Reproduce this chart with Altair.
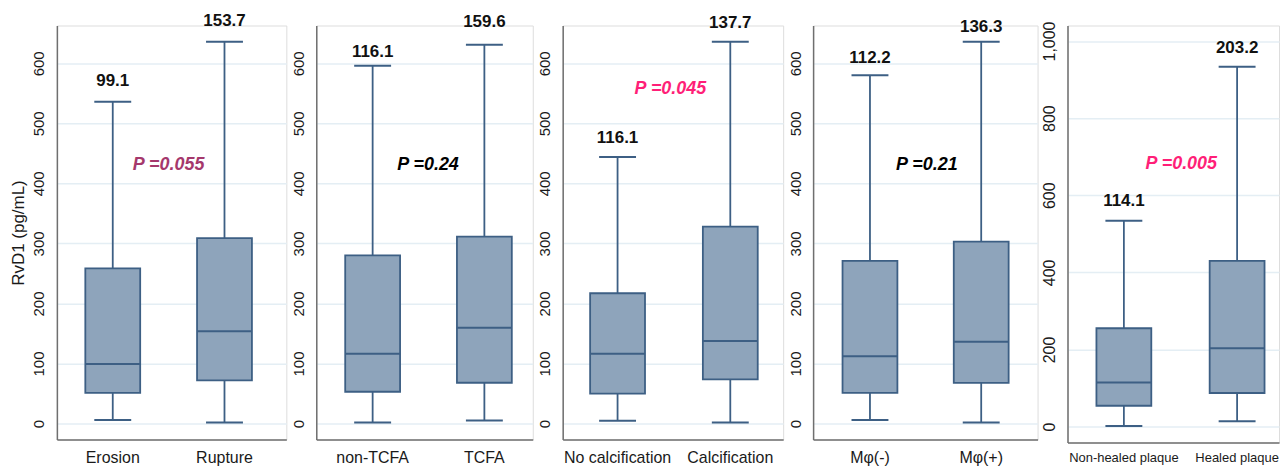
import altair as alt
import pandas as pd

# ---------------- data ----------------
groups = [
    ["Erosion", "Rupture"],
    ["non-TCFA", "TCFA"],
    ["No calcification", "Calcification"],
    ["Mφ(-)", "Mφ(+)"],
    ["Non-healed plaque", "Healed plaque"],
]
lows = [[6, 1.7], [1.6, 5], [4.5, 1.6], [6, 1.6], [1.5, 13.7]]
q1s = [[51, 72], [53, 68], [50, 73.6], [51, 67.6], [54, 87]]
medians = [[99.1, 153.7], [116.1, 159.6], [116.1, 137.7], [112.2, 136.3], [114.1, 203.2]]
q3s = [[258.6, 309], [280, 311.5], [217, 328], [271, 303], [255, 430]]
highs = [[536, 636], [596, 631], [444, 636], [580, 636], [534, 933]]
p_texts = ["P =0.055", "P =0.24", "P =0.045", "P =0.21", "P =0.005"]
p_levels = [431, 430, 558, 430, 680]
y_ticks = [[0, 100, 200, 300, 400, 500, 600]] * 4 + [[0, 200, 400, 600, 800, 1000]]
y_title = "RvD1 (pg/mL)"

# ---------------- styling ----------------
FONT = "Liberation Sans"
BOX_FILL = "#8ea4bb"
BOX_STROKE = "#3d5f84"
GRID = "#e4eef4"
AXIS = "#6f6f6f"
widths = [230, 217, 221, 225, 212]
heights = [415, 415, 415, 415, 418]
domains = [[-26.6, 663]] * 4 + [[-41.4, 1040.3]]
box_centers = [[56, 168], [56.5, 168.5], [55, 168], [57, 168.5], [56.5, 170]]  # px from axis
label_dy = [[-21, -21], [-14, -22.7], [-19, -18.3], [-17.7, -14.3], [-19.7, -19]]
p_x = [112, 112, 108, 114, 114]
p_colors = ["#a5386c", "#000000", "#ff1f78", "#000000", "#ff1f78"]
xlab_size = [16, 16, 16, 16, 13]
xlab_pad = [10, 10, 10, 10, 9]
ylab_size = [15, 15, 15, 15, 16]
PAD_OUTER = 0.1


def band_params(w, c1, c2):
    """paddingInner / align so that two bands are centred at c1, c2 px."""
    s = c2 - c1
    u = w / s
    k1 = c1 / s
    pi = 2 + 2 * PAD_OUTER - u
    a = ((k1 - (u - 1) / 2) / PAD_OUTER + 1) / 2
    return pi, min(max(a, 0.0), 1.0)


def panel(i):
    df = pd.DataFrame({
        "group": groups[i],
        "low": lows[i],
        "q1": q1s[i],
        "med": medians[i],
        "q3": q3s[i],
        "high": highs[i],
        "label": [f"{m:.1f}" for m in medians[i]],
    })
    pi, al = band_params(widths[i], *box_centers[i])
    xs = alt.X(
        "group:N",
        sort=groups[i],
        scale=alt.Scale(type="band", paddingInner=pi, paddingOuter=PAD_OUTER, align=al),
        title=None,
        axis=alt.Axis(labelAngle=0, labelFontSize=xlab_size[i], labelColor="#1a1a1a",
                      ticks=False, labelPadding=xlab_pad[i], domain=True,
                      domainColor=AXIS, domainWidth=1.5, grid=False, labelFont=FONT),
    )

    def ys(field):
        return alt.Y(
            f"{field}:Q",
            scale=alt.Scale(domain=domains[i], nice=False, zero=False),
            title=y_title if i == 0 else None,
            axis=alt.Axis(values=y_ticks[i], format=",.0f", labelAngle=270,
                          labelAlign="center", labelBaseline="bottom",
                          labelFontSize=ylab_size[i], labelColor="#1a1a1a",
                          labelPadding=10, ticks=False, domain=True,
                          domainColor=AXIS, domainWidth=1.5, grid=True,
                          gridColor=GRID, gridWidth=1.5, titleFontSize=17,
                          titleFontWeight="normal", titleColor="#1a1a1a",
                          titlePadding=4, labelFont=FONT, titleFont=FONT),
        )

    base = alt.Chart(df)
    whisk = base.mark_rule(color=BOX_STROKE, strokeWidth=1.8).encode(
        x=xs, y=ys("low"), y2="high")
    box = base.mark_bar(size=55, fill=BOX_FILL, stroke=BOX_STROKE, strokeWidth=1.8,
                        opacity=1).encode(x=xs, y=ys("q1"), y2="q3")
    med = base.mark_tick(size=55, thickness=2, color=BOX_STROKE, opacity=1).encode(
        x=xs, y=ys("med"))
    cap_lo = base.mark_tick(size=37, thickness=2, color=BOX_STROKE, opacity=1).encode(
        x=xs, y=ys("low"))
    cap_hi = base.mark_tick(size=37, thickness=2, color=BOX_STROKE, opacity=1).encode(
        x=xs, y=ys("high"))
    layers = [whisk, box, med, cap_lo, cap_hi]
    for j, g in enumerate(groups[i]):
        layers.append(
            base.transform_filter(alt.datum.group == g)
            .mark_text(dy=label_dy[i][j], fontSize=17, fontWeight="bold",
                       color="#111111", font=FONT, baseline="middle")
            .encode(x=xs, y=ys("high"), text="label:N")
        )
    pdf = pd.DataFrame({"p": [p_texts[i]], "lvl": [p_levels[i]]})
    layers.append(
        alt.Chart(pdf).mark_text(fontSize=18, fontWeight="bold", fontStyle="italic",
                                 color=p_colors[i], font=FONT, baseline="middle")
        .encode(x=alt.value(p_x[i]), y=ys("lvl"), text="p:N")
    )
    return alt.layer(*layers).properties(width=widths[i], height=heights[i])


chart = alt.hconcat(
    *[panel(i) for i in range(5)],
    spacing=30,
    bounds="flush",
    padding={"left": 1, "top": 2, "right": 0, "bottom": 0},
).configure_view(stroke=None).configure(font=FONT)

chart.save("out.html", embed_options={"renderer": "svg", "actions": False})
